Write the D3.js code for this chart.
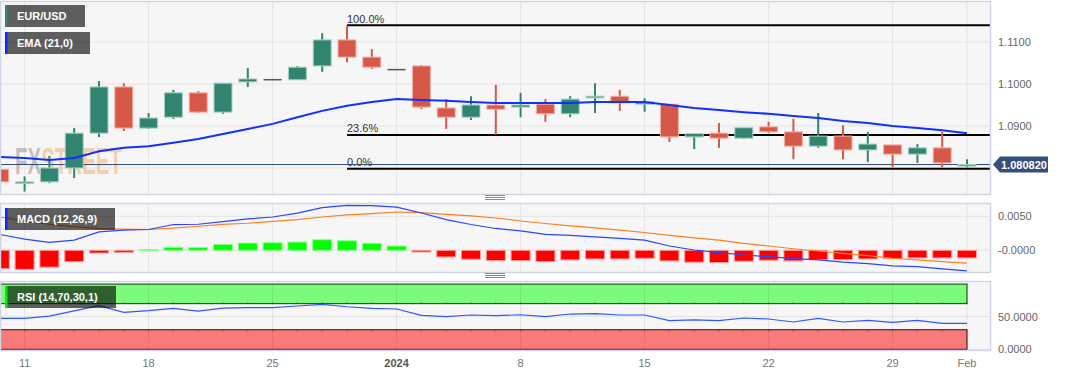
<!DOCTYPE html>
<html>
<head>
<meta charset="utf-8">
<script src="https://cdn.jsdelivr.net/npm/d3@7"></script>
<style>
	body {margin: 0; background: #ffffff; font-family: "Liberation Sans", Arial, sans-serif;}
</style>
</head>
<body>
<div id="vis"></div>
<script>
// daily candles, Dec 8 2023 .. Feb 1 2024 (weekdays)
const DATES = ["12-08","12-11","12-12","12-13","12-14","12-15","12-18","12-19","12-20","12-21",
	"12-22","12-25","12-26","12-27","12-28","12-29","01-01","01-02","01-03","01-04",
	"01-05","01-08","01-09","01-10","01-11","01-12","01-15","01-16","01-17","01-18",
	"01-19","01-22","01-23","01-24","01-25","01-26","01-29","01-30","01-31","02-01"];

const OPEN  = [1.0797,1.0766,1.0767,1.0800,1.0883,1.0993,1.0895,1.0921,1.0979,1.0933,
	1.1005,1.1012,1.1010,1.1043,1.1105,1.1064,1.1036,1.1043,1.0943,1.0921,
	1.0950,1.0945,1.0952,1.0929,1.0967,1.0971,1.0952,1.0952,1.0874,1.0883,
	1.0871,1.0898,1.0886,1.0852,1.0876,1.0843,1.0855,1.0833,1.0848,1.0807];
const HIGH  = [1.0798,1.0780,1.0829,1.0895,1.1007,1.1002,1.0931,1.0986,1.0983,1.1002,
	1.1038,1.1012,1.1043,1.1121,1.1139,1.1083,1.1036,1.1045,1.0964,1.0971,
	1.0998,1.0979,1.0964,1.0971,1.1002,1.0986,1.0966,1.0952,1.0883,1.0907,
	1.0896,1.0910,1.0917,1.0931,1.0902,1.0886,1.0855,1.0857,1.0886,1.0821];
const LOW   = [1.0738,1.0744,1.0764,1.0776,1.0874,1.0888,1.0893,1.0917,1.0931,1.0929,
	1.0993,1.1012,1.1010,1.1029,1.1052,1.1036,1.1036,1.0940,1.0893,1.0914,
	1.0879,1.0921,1.0910,1.0921,1.0931,1.0936,1.0934,1.0862,1.0845,1.0848,
	1.0869,1.0883,1.0821,1.0848,1.0821,1.0814,1.0802,1.0812,1.0802,1.0802];
const CLOSE = [1.0767,1.0767,1.0800,1.0883,1.0993,1.0895,1.0919,1.0979,1.0933,1.1002,
	1.1012,1.1012,1.1040,1.1105,1.1064,1.1040,1.1036,1.0945,1.0921,1.0950,
	1.0940,1.0950,1.0929,1.0964,1.0971,1.0955,1.0958,1.0874,1.0882,1.0871,
	1.0896,1.0886,1.0852,1.0876,1.0843,1.0857,1.0833,1.0848,1.0812,1.08082];

const EMA = [1.0826,1.0824,1.0819,1.0824,1.0840,1.0848,1.0852,1.0860,1.0869,1.0881,
	1.0893,1.0905,1.0921,1.0936,1.0948,1.0957,1.0964,1.0962,1.0960,1.0957,
	1.0955,1.0955,1.0955,1.0955,1.0957,1.0957,1.0957,1.0950,1.0943,1.0938,
	1.0933,1.0929,1.0924,1.0919,1.0912,1.0907,1.0900,1.0895,1.0890,1.0883];

const MACD = [0.00233,0.00165,0.00117,0.0015,0.00271,0.00296,0.00306,0.00379,0.00383,0.00423,
	0.00461,0.0049,0.00548,0.00627,0.0066,0.00656,0.00636,0.00548,0.00452,0.00379,
	0.00321,0.00286,0.00233,0.00219,0.00198,0.00175,0.0015,0.00063,0.00004,-0.00035,
	-0.00069,-0.00093,-0.00122,-0.00141,-0.00175,-0.00195,-0.00229,-0.00239,-0.00273,-0.00302];
const SIGNAL = [0.0049,0.0043,0.00383,0.0035,0.0032,0.0031,0.00306,0.00325,0.00354,0.0038,
	0.00398,0.00425,0.00452,0.0049,0.0052,0.0054,0.00563,0.00554,0.00529,0.00505,
	0.00475,0.00431,0.00394,0.00359,0.0033,0.00296,0.00262,0.00219,0.00184,0.0015,
	0.00102,0.00063,0.00023,-0.0001,-0.00044,-0.00079,-0.00117,-0.00141,-0.00166,-0.0019];
const HIST = [-0.0027,-0.0028,-0.00248,-0.00166,-0.0004,-0.0003,0.0001,0.00044,0.0004,0.00087,
	0.00106,0.00111,0.00121,0.00155,0.0014,0.00102,0.00063,-0.00025,-0.00098,-0.00131,
	-0.00151,-0.00151,-0.00166,-0.00141,-0.00127,-0.00127,-0.00117,-0.00156,-0.00175,-0.0018,
	-0.0016,-0.00146,-0.00156,-0.00137,-0.00137,-0.00127,-0.00122,-0.00112,-0.00112,-0.00112];

const RSI = [47.5,47.5,51,59,67,56.7,59.2,62.9,58.7,63,
	63.8,63.8,66.4,69,65.3,62.9,61.8,52,50,52.6,
	51.5,53,50,54.1,54.6,52.6,52.6,43.9,45,43.9,
	48,46.5,41.9,47.5,41.9,44.5,41.4,44.5,39.9,39.9];

// x axis ticks: candle index -> label
const X_TICKS = [1, 6, 11, 16, 21, 26, 31, 36, 39];
const X_LABELS = ["11", "18", "25", "2024", "8", "15", "22", "29", "Feb"];

const PRICE_TICKS = [1.11, 1.10, 1.09, 1.08];
const PRICE_LABELS = ["1.1100", "1.1000", "1.0900"];
const MACD_TICKS = [0.005, 0];
const MACD_LABELS = ["0.0050", "-0.0000"];
const RSI_TICKS = [50, 0];
const RSI_LABELS = ["50.0000", "0.0000"];

const LAST_PRICE = 1.080820;
const FIB_HIGH = 1.1140;
const FIB_LOW = 1.0798;
const FIB_LEVELS = [1, 0.236, 0];
const FIB_NAMES = ["100.0%", "23.6%", "0.0%"];
const FIB_START = 14;

// frame
const FRAME_WIDTH = 1067;
const FRAME_HEIGHT = 376;
const PLOT_RIGHT = 990;
const MAIN = {top: 1, bottom: 194};
const PMACD = {top: 203, bottom: 272};
const PRSI = {top: 281, bottom: 350};

const GREEN = "#318570", RED = "#d65848";
const BORDER = "#cfd5e4", GRID = "#e4e4e4", AXIS_TXT = "#666666";

const FRAME = d3.select("#vis")
				.append("svg")
					.attr("width", FRAME_WIDTH)
					.attr("height", FRAME_HEIGHT)
					.style("display", "block");

const X = d3.scaleLinear().domain([0, 39]).range([-0.2, 967]);
const Y = d3.scaleLinear().domain([1.11, 1.08]).range([42, 168]);
const Y_MACD = d3.scaleLinear().domain([0.005, 0]).range([216.3, 250.3]);
const Y_RSI = d3.scaleLinear().domain([50, 0]).range([316.7, 349.3]);

const idx = d3.range(DATES.length);

// panel background + grid; extra(g) draws things that sit under the grid
function panel(p, yTicks, yScale, extra, gridColor) {
	const g = FRAME.append("g");
	g.append("rect")
		.attr("x", 0).attr("y", p.top)
		.attr("width", PLOT_RIGHT).attr("height", p.bottom - p.top)
		.attr("fill", "#f6f6f6");
	if (extra) extra(g);
	g.selectAll("hgrid")
		.data(yTicks)
		.enter()
		.append("line")
			.attr("x1", 0).attr("x2", PLOT_RIGHT)
			.attr("y1", (d) => yScale(d)).attr("y2", (d) => yScale(d))
			.attr("stroke", gridColor || GRID).attr("stroke-width", 1);
	g.selectAll("vgrid")
		.data(X_TICKS)
		.enter()
		.append("line")
			.attr("x1", (d) => X(d)).attr("x2", (d) => X(d))
			.attr("y1", p.top).attr("y2", p.bottom)
			.attr("stroke", gridColor || GRID).attr("stroke-width", 1);
	return g;
}

function border(p) {
	FRAME.append("rect")
		.attr("x", 0.5).attr("y", p.top + 0.5)
		.attr("width", PLOT_RIGHT).attr("height", p.bottom - p.top)
		.attr("fill", "none")
		.attr("stroke", BORDER).attr("stroke-width", 1.5);
}

function handle(y) {
	[-2, 0, 2].forEach((dy) => {
		FRAME.append("line")
			.attr("x1", 485).attr("x2", 505)
			.attr("y1", y + dy + 0.5).attr("y2", y + dy + 0.5)
			.attr("stroke", "#8a8a8a").attr("stroke-width", 1);
	});
}

function legendBox(x, y, w, txt, accent) {
	FRAME.append("rect")
		.attr("x", x).attr("y", y).attr("width", w).attr("height", 22)
		.attr("fill", "rgba(0,0,0,0.62)");
	FRAME.append("rect")
		.attr("x", x).attr("y", y).attr("width", 2.5).attr("height", 22)
		.attr("fill", accent);
	FRAME.append("text")
		.attr("x", x + 12).attr("y", y + 15)
		.attr("fill", "#ffffff")
		.attr("font-size", "11px").attr("font-weight", "bold")
		.text(txt);
}

// ---------- main price panel ----------
panel(MAIN, PRICE_TICKS, Y);

// watermark
const wm = FRAME.append("text")
	.attr("x", 15).attr("y", 174)
	.attr("font-size", "36px").attr("font-weight", "bold")
	.attr("textLength", 107).attr("lengthAdjust", "spacingAndGlyphs");
wm.append("tspan").attr("fill", "rgba(140,140,140,0.5)").text("FX");
wm.append("tspan").attr("fill", "rgba(240,160,80,0.45)").text("STREET");

// fibonacci lines
FIB_LEVELS.forEach((lv, k) => {
	const yy = Y(FIB_LOW + lv * (FIB_HIGH - FIB_LOW));
	FRAME.append("line")
		.attr("x1", X(FIB_START)).attr("x2", PLOT_RIGHT)
		.attr("y1", yy).attr("y2", yy)
		.attr("stroke", "#000000").attr("stroke-width", 2);
	FRAME.append("text")
		.attr("x", X(FIB_START)).attr("y", yy - 2.5)
		.attr("fill", "#333333").attr("font-size", "11px")
		.text(FIB_NAMES[k]);
});

// current price line
FRAME.append("line")
	.attr("x1", 0).attr("x2", PLOT_RIGHT)
	.attr("y1", Y(LAST_PRICE)).attr("y2", Y(LAST_PRICE))
	.attr("stroke", "#2f4a6e").attr("stroke-width", 1);

// candles
const candleColor = (i) => CLOSE[i] > OPEN[i] ? GREEN : (CLOSE[i] < OPEN[i] ? RED : "#555555");
const BODY_W = 18;

FRAME.selectAll("wicks")
	.data(idx)
	.enter()
	.append("line")
		.attr("x1", (i) => X(i)).attr("x2", (i) => X(i))
		.attr("y1", (i) => Y(HIGH[i])).attr("y2", (i) => Y(LOW[i]))
		.attr("stroke", candleColor).attr("stroke-width", 2);

FRAME.selectAll("bodies")
	.data(idx)
	.enter()
	.append("rect")
		.attr("x", (i) => X(i) - BODY_W / 2)
		.attr("y", (i) => Y(Math.max(OPEN[i], CLOSE[i])))
		.attr("width", BODY_W)
		.attr("height", (i) => Math.max(1.5, Math.abs(Y(OPEN[i]) - Y(CLOSE[i]))))
		.attr("fill", candleColor)
		.attr("stroke", (i) => CLOSE[i] === OPEN[i] ? "none" : (CLOSE[i] > OPEN[i] ? "#a9d0c4" : "#f3b3aa"))
		.attr("stroke-width", 1);

// EMA
FRAME.append("path")
	.datum(idx)
	.attr("d", d3.line().x((i) => X(i)).y((i) => Y(EMA[i])))
	.attr("fill", "none")
	.attr("stroke", "#1030ff").attr("stroke-width", 2);

border(MAIN);

// price tag
const tagY = Y(LAST_PRICE);
FRAME.append("path")
	.attr("d", `M993,${tagY} L1000,${tagY - 8} L1048,${tagY - 8} L1048,${tagY + 8} L1000,${tagY + 8} Z`)
	.attr("fill", "#34507a");
FRAME.append("text")
	.attr("x", 1001).attr("y", tagY + 4)
	.attr("fill", "#ffffff").attr("font-size", "11px").attr("font-weight", "bold")
	.text(LAST_PRICE.toFixed(6));

// price axis
FRAME.selectAll("plabels")
	.data(PRICE_LABELS)
	.enter()
	.append("text")
		.attr("x", 998).attr("y", (d, k) => Y(PRICE_TICKS[k]) + 4)
		.attr("fill", AXIS_TXT).attr("font-size", "11px")
		.text((d) => d);

// ---------- MACD panel ----------
panel(PMACD, MACD_TICKS, Y_MACD);

FRAME.selectAll("hist")
	.data(idx)
	.enter()
	.append("rect")
		.attr("x", (i) => X(i) - 9.5)
		.attr("y", (i) => Y_MACD(Math.max(0, HIST[i])))
		.attr("width", 19)
		.attr("height", (i) => Math.max(1, Math.abs(Y_MACD(HIST[i]) - Y_MACD(0))))
		.attr("fill", (i) => HIST[i] >= 0 ? "#00ff00" : "#ff0000")
		.attr("stroke", (i) => HIST[i] >= 0 ? "#88ff88" : "#ff9a9a")
		.attr("stroke-width", 1);

FRAME.append("path")
	.datum(idx)
	.attr("d", d3.line().x((i) => X(i)).y((i) => Y_MACD(SIGNAL[i])))
	.attr("fill", "none").attr("stroke", "#ff7f1e").attr("stroke-width", 1.2);
FRAME.append("path")
	.datum(idx)
	.attr("d", d3.line().x((i) => X(i)).y((i) => Y_MACD(MACD[i])))
	.attr("fill", "none").attr("stroke", "#2a44ff").attr("stroke-width", 1.2);

border(PMACD);

FRAME.selectAll("mlabels")
	.data(MACD_LABELS)
	.enter()
	.append("text")
		.attr("x", 998).attr("y", (d, k) => Y_MACD(MACD_TICKS[k]) + 4)
		.attr("fill", AXIS_TXT).attr("font-size", "11px")
		.text((d) => d);

// ---------- RSI panel ----------
panel(PRSI, RSI_TICKS, Y_RSI, (g) => {
	// overbought / oversold bands
	g.append("rect")
		.attr("x", X(0) + 0.5).attr("y", Y_RSI(100))
		.attr("width", X(39) - X(0) - 0.5).attr("height", Y_RSI(70) - Y_RSI(100))
		.attr("fill", "#7cfa7c").attr("stroke", "#0d3d0d").attr("stroke-width", 1);
	g.append("rect")
		.attr("x", X(0) + 0.5).attr("y", Y_RSI(30))
		.attr("width", X(39) - X(0) - 0.5).attr("height", Y_RSI(0) - Y_RSI(30))
		.attr("fill", "#f97a7a").attr("stroke", "#3a0a0a").attr("stroke-width", 1);
}, "rgba(0,0,0,0.08)");

// small ticks along band edges
FRAME.selectAll("bandticks")
	.data(idx)
	.enter()
	.append("line")
		.attr("x1", (i) => X(i)).attr("x2", (i) => X(i))
		.attr("y1", Y_RSI(70) - 2).attr("y2", Y_RSI(70))
		.attr("stroke", "rgba(0,60,0,0.3)").attr("stroke-width", 1);
FRAME.selectAll("bandticks2")
	.data(idx)
	.enter()
	.append("line")
		.attr("x1", (i) => X(i)).attr("x2", (i) => X(i))
		.attr("y1", Y_RSI(30)).attr("y2", Y_RSI(30) + 2)
		.attr("stroke", "rgba(80,0,0,0.3)").attr("stroke-width", 1);

FRAME.append("path")
	.datum(idx)
	.attr("d", d3.line().x((i) => X(i)).y((i) => Y_RSI(RSI[i])))
	.attr("fill", "none").attr("stroke", "#3355ff").attr("stroke-width", 1.2);

border(PRSI);

FRAME.selectAll("rlabels")
	.data(RSI_LABELS)
	.enter()
	.append("text")
		.attr("x", 998).attr("y", (d, k) => Y_RSI(RSI_TICKS[k]) + 4)
		.attr("fill", AXIS_TXT).attr("font-size", "11px")
		.text((d) => d);

// x axis labels
FRAME.selectAll("xlabels")
	.data(X_LABELS)
	.enter()
	.append("text")
		.attr("x", (d, k) => X(X_TICKS[k]))
		.attr("y", 367)
		.attr("text-anchor", "middle")
		.attr("fill", (d) => d === "2024" ? "#555555" : "#777777")
		.attr("font-weight", (d) => d === "2024" ? "bold" : "normal")
		.attr("font-size", "11px")
		.text((d) => d);

handle(197);
handle(275);

legendBox(5, 5, 80, "EUR/USD", GREEN);
legendBox(5, 32, 85, "EMA (21,0)", "#0a2aff");
legendBox(5, 208, 110, "MACD (12,26,9)", "#0a2aff");
legendBox(5, 286, 111, "RSI (14,70,30,1)", "#00ee00");
</script>
</body>
</html>
